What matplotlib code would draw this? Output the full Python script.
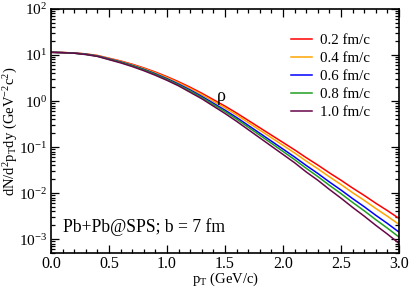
import numpy as np
import matplotlib
matplotlib.use("Agg")
import matplotlib.pyplot as plt
from matplotlib.ticker import MultipleLocator, LogLocator, NullFormatter

plt.rcParams['font.family'] = ['Liberation Serif', 'DejaVu Serif']
plt.rcParams['mathtext.fontset'] = 'custom'
plt.rcParams['mathtext.rm'] = 'Liberation Serif'
plt.rcParams['mathtext.it'] = 'Liberation Serif:italic'
plt.rcParams['mathtext.bf'] = 'Liberation Serif:bold'

# data: pT grid and log10 of spectra for each formation time
pt = [0.0, 0.1, 0.2, 0.3, 0.4, 0.5, 0.6, 0.7, 0.8, 0.9, 1.0, 1.1, 1.2, 1.3, 1.4, 1.5,
      1.6, 1.7, 1.8, 1.9, 2.0, 2.1, 2.2, 2.3, 2.4, 2.5, 2.6, 2.7, 2.8, 2.9, 3.0]
log_tau02 = [1.06, 1.055, 1.045, 1.025, 0.99, 0.93, 0.87, 0.80, 0.72, 0.63, 0.53, 0.42, 0.30,
             0.17, 0.03, -0.11, -0.26, -0.42, -0.58, -0.74, -0.90, -1.06, -1.23, -1.39, -1.56,
             -1.72, -1.89, -2.05, -2.22, -2.38, -2.55]
log_tau04 = [1.06, 1.054, 1.043, 1.022, 0.985, 0.923, 0.861, 0.789, 0.707, 0.614, 0.511, 0.398,
             0.274, 0.140, -0.004, -0.148, -0.302, -0.467, -0.632, -0.797, -0.962, -1.128,
             -1.304, -1.470, -1.646, -1.813, -1.990, -2.157, -2.334, -2.502, -2.680]
log_tau06 = [1.06, 1.053, 1.041, 1.018, 0.979, 0.915, 0.850, 0.775, 0.689, 0.593, 0.486, 0.369,
             0.241, 0.102, -0.047, -0.197, -0.357, -0.528, -0.699, -0.871, -1.043, -1.216,
             -1.399, -1.573, -1.758, -1.933, -2.119, -2.295, -2.482, -2.659, -2.847]
log_tau08 = [1.06, 1.052, 1.039, 1.015, 0.975, 0.909, 0.843, 0.766, 0.678, 0.579, 0.470, 0.350,
             0.219, 0.077, -0.075, -0.228, -0.392, -0.567, -0.742, -0.918, -1.095, -1.273,
             -1.461, -1.640, -1.830, -2.011, -2.202, -2.384, -2.577, -2.761, -2.955]
log_tau10 = [1.06, 1.05, 1.04, 1.01, 0.97, 0.90, 0.83, 0.75, 0.66, 0.56, 0.45, 0.33, 0.19,
             0.05, -0.11, -0.27, -0.44, -0.62, -0.80, -0.98, -1.16, -1.34, -1.54, -1.72,
             -1.92, -2.11, -2.31, -2.50, -2.70, -2.89, -3.09]

labels = ['0.2 fm/c', '0.4 fm/c', '0.6 fm/c', '0.8 fm/c', '1.0 fm/c']
colors = ['#ff0000', '#ffa500', '#0000ff', '#1f9f1f', '#67074a']
series = [log_tau02, log_tau04, log_tau06, log_tau08, log_tau10]

fig = plt.figure(figsize=(4.09, 2.87), dpi=100)
ax = fig.add_axes([51/409, 1-253/287, 348/409, 244/287])

x = np.array(pt)
for s, c, l in zip(series, colors, labels):
    ax.plot(x, 10**np.array(s), color=c, lw=1.1, label=l)

ax.set_yscale('log')
ax.set_xlim(0, 3.0)
ax.set_ylim(5e-4, 1e2)
ax.xaxis.set_major_locator(MultipleLocator(0.5))
ax.xaxis.set_minor_locator(MultipleLocator(0.1))
ax.yaxis.set_major_locator(LogLocator(base=10, numticks=20))
ax.yaxis.set_minor_locator(LogLocator(base=10, subs=np.arange(2, 10), numticks=20))
ax.yaxis.set_minor_formatter(NullFormatter())
ax.xaxis.set_major_formatter(matplotlib.ticker.FormatStrFormatter('%.1f'))

ax.tick_params(which='both', direction='in', top=True, right=True, width=0.9)
ax.tick_params(axis='x', pad=2, labelsize=11.5)
ax.tick_params(axis='y', pad=3, labelsize=11)
ax.tick_params(which='major', length=6)
ax.tick_params(which='minor', length=3)
for sp in ax.spines.values():
    sp.set_linewidth(1.2)

ax.set_xlabel(r'p$_\mathrm{T}$ (GeV/c)', fontsize=10.5)
ax.xaxis.label.set_va('center')
ax.xaxis.set_label_coords(0.5, -0.107)
ax.set_ylabel(r'dN/d$^2$p$_\mathrm{T}$dy (GeV$^{-2}$c$^2$)', fontsize=10.5)
ax.yaxis.set_label_coords(-0.089, 0.5)

ax.text(1.465, 1.25, r'ρ', fontsize=13, ha='center', va='center')
ax.text(0.034, 0.107, 'Pb+Pb@SPS; b = 7 fm', transform=ax.transAxes, fontsize=12.7,
        ha='left', va='center')

leg = ax.legend(loc='upper right', bbox_to_anchor=(0.933, 0.925), frameon=False,
                fontsize=10.8, handlelength=1.4, handletextpad=0.5, labelspacing=0.3,
                borderaxespad=0)

fig.savefig('out.png', dpi=100)
